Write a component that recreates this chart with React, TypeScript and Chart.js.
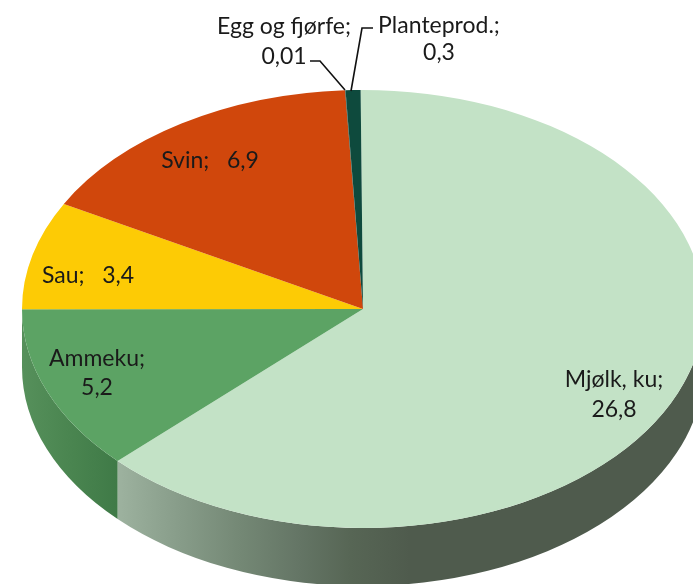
import React, { useEffect, useRef } from "react";
import { Chart, registerables } from "chart.js";

Chart.register(...registerables);

const categories = ["Mjølk, ku", "Ammeku", "Sau", "Svin", "Egg og fjørfe", "Planteprod."];
const values = [26.8, 5.2, 3.4, 6.9, 0.01, 0.3];
const valueLabels = ["26,8", "5,2", "3,4", "6,9", "0,01", "0,3"];
const colors = ["#c3e2c6", "#5ca364", "#fdcb05", "#d0470c", "#0e4a3d", "#0e4a3d"];

const X_STRETCH = 341 / 219;
const DEPTH = 58;
const FONT = '23px Lato, "Open Sans", sans-serif';

// wall gradient stops per slice index: [canvas x, colour]
const wallStops: Record<number, [number, string][]> = {
  0: [[118, "#9db29f"], [180, "#879c89"], [240, "#748875"], [300, "#647565"], [350, "#576655"], [410, "#4f5b4d"], [693, "#4f5b4d"]],
  1: [[22, "#56905b"], [70, "#4a8550"], [118, "#3f7a47"]],
};

// label layout: [slice index, lines, centre x, first-line y]
const labelLayout: [number, string[], number, number][] = [
  [0, [`Mjølk, ku;`, valueLabels[0]], 614, 380],
  [1, [`Ammeku;`, valueLabels[1]], 97, 359],
  [2, [`Sau;   ${valueLabels[2]}`], 88, 276],
  [3, [`Svin;   ${valueLabels[3]}`], 210, 161],
  [4, [`Egg og fjørfe;`, valueLabels[4]], 284, 27],
  [5, [`Planteprod.;`, valueLabels[5]], 439, 26],
];
const lineHeights: Record<number, number> = { 0: 30, 1: 29, 4: 30, 5: 27 };

const pie3d = {
  id: "pie3d",
  beforeDatasetsDraw(chart: any) {
    const ctx = chart.ctx as CanvasRenderingContext2D;
    const arcs = chart.getDatasetMeta(0).data as any[];
    const cx = arcs[0].x;
    const cy = arcs[0].y;
    const r = arcs[0].outerRadius;
    ctx.save();
    arcs.forEach((arc, i) => {
      const a = Math.max(arc.startAngle, 0);
      const b = Math.min(arc.endAngle, Math.PI);
      if (b <= a || !wallStops[i]) return;
      const stops = wallStops[i];
      const x0 = stops[0][0];
      const x1 = stops[stops.length - 1][0];
      const g = ctx.createLinearGradient(x0, 0, x1, 0);
      stops.forEach(([x, c]) => g.addColorStop((x - x0) / (x1 - x0), c));
      ctx.fillStyle = g;
      ctx.beginPath();
      ctx.ellipse(cx, cy, r * X_STRETCH, r, 0, a, b);
      ctx.ellipse(cx, cy + DEPTH, r * X_STRETCH, r, 0, b, a, true);
      ctx.closePath();
      ctx.fill();
    });
    ctx.restore();
    ctx.save();
    ctx.translate(cx, cy);
    ctx.scale(X_STRETCH, 1);
    ctx.translate(-cx, -cy);
  },
  afterDatasetsDraw(chart: any) {
    const ctx = chart.ctx as CanvasRenderingContext2D;
    ctx.restore();
    ctx.save();
    // leader lines
    ctx.strokeStyle = "#111111";
    ctx.lineWidth = 1.6;
    ctx.beginPath();
    ctx.moveTo(310, 61);
    ctx.lineTo(320, 61);
    ctx.lineTo(345, 90);
    ctx.moveTo(373, 28);
    ctx.lineTo(362, 28);
    ctx.lineTo(351, 91);
    ctx.stroke();
    // labels
    ctx.fillStyle = "#1a1a1a";
    ctx.font = FONT;
    ctx.textAlign = "center";
    ctx.textBaseline = "middle";
    labelLayout.forEach(([i, lines, x, y]) => {
      lines.forEach((line, k) => ctx.fillText(line, x, y + k * (lineHeights[i] ?? 0)));
    });
    ctx.restore();
  },
};

export default function App() {
  const ref = useRef<HTMLCanvasElement>(null);
  useEffect(() => {
    const chart = new Chart(ref.current as HTMLCanvasElement, {
      type: "pie",
      data: {
        labels: categories,
        datasets: [{ data: values, backgroundColor: colors, borderWidth: 0, clip: false } as any],
      },
      options: {
        responsive: false,
        animation: false,
        events: [],
        rotation: -0.4,
        layout: { padding: { left: 33, right: 0, top: 90, bottom: 56 } },
        plugins: { legend: { display: false }, tooltip: { enabled: false } },
      },
      plugins: [pie3d],
    } as any);
    return () => chart.destroy();
  }, []);
  return (
    <div style={{ position: "absolute", left: 0, top: 0, width: 693, height: 584, overflow: "hidden", background: "#fff" }}>
      <canvas ref={ref} width={693} height={584} style={{ display: "block" }} />
    </div>
  );
}
